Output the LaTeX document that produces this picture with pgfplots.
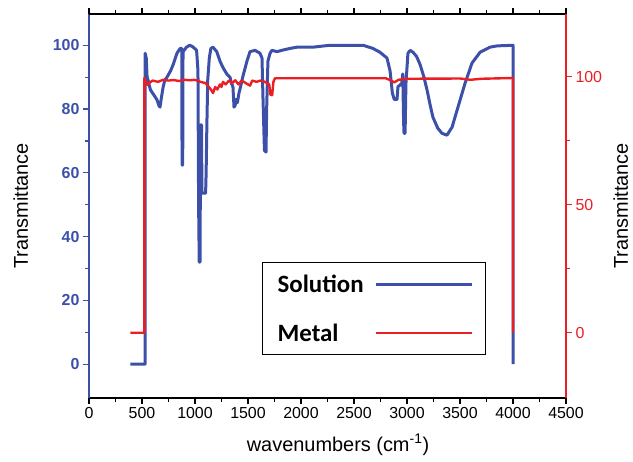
\documentclass[border=0pt]{standalone}
\usepackage{pgfplots}
\pgfplotsset{compat=1.18}
\usepackage{fontspec}
\setmainfont{Liberation Sans}
\newfontfamily\legfont{Carlito}
\definecolor{blueC}{RGB}{60,80,170}
\definecolor{redC}{RGB}{235,30,35}
\begin{document}
\begin{tikzpicture}
\pgfplotsset{
  common/.style={
    scale only axis, width=477bp, height=384bp, at={(0,0)}, anchor=south west,
    xmin=0, xmax=4500,
    xtick={0,500,...,4500}, minor x tick num=1,
    tick align=outside, major tick length=6bp, minor tick length=3.5bp,
    /pgf/number format/assume math mode=true,
    /pgf/number format/1000 sep={}, scaled ticks=false,
    x axis line style={black, line width=1.3bp, -},
    xtick style={black, line width=1.1bp},
    tick label style={font=\fontsize{16}{19}\selectfont},
    label style={font=\fontsize{20}{24}\selectfont, black},
  }
}
\begin{axis}[common,
  ymin=-10.6, ymax=109.8,
  axis x line*=bottom, axis y line*=left,
  ytick={0,20,...,100}, minor y tick num=1,
  y axis line style={blueC, line width=1.6bp, -},
  ytick style={blueC, line width=1.2bp},
  yticklabel style={blueC, font=\fontsize{16}{19}\selectfont\bfseries},
  xticklabel style={black},
  xlabel={wavenumbers (cm\textsuperscript{-1})},
  ylabel={Transmittance},
  xlabel style={at={(axis description cs:0.522,-0.122)}, anchor=center},
  ylabel style={at={(axis description cs:-0.143,0.5)}, anchor=center},
]
\addplot[blueC, line width=3bp, line join=round] coordinates {
(390,0) (530,0) (530,97.5) (540,96) (548,90) (558,89) (568,87.5) (580,86) (600,85) (620,84) (640,83) (660,81) (670,80.6) (685,84) (700,87) (715,89) (736,90)
(770,92) (795,94) (830,97.5) (860,99) (875,99) (878,62.4) (884,62.4) (887,98) (920,99.4) (950,100) (980,99.5)
(1015,98.4) (1028,92) (1034,50) (1040,32) (1048,32) (1052,75) (1062,75) (1065,53.6) (1100,53.6) (1105,60)
(1112,75) (1120,89) (1135,96) (1150,99) (1170,99.4) (1205,98) (1236,95) (1264,93) (1300,91) (1330,90)
(1345,88) (1358,87) (1368,80.6) (1378,81) (1388,83) (1400,82) (1415,85) (1430,87) (1450,90) (1490,95) (1519,98) (1566,98.4)
(1613,97.5) (1632,96) (1641,84) (1655,67) (1670,66.5) (1676,80) (1688,95) (1708,97.5) (1726,98.4) (1774,98)
(1830,98.5) (1896,99) (1962,99.4) (2113,99.4) (2274,100) (2585,100) (2679,99) (2745,97.8) (2811,96)
(2840,92) (2862,85) (2880,83) (2906,83) (2915,87) (2950,88) (2960,91) (2968,76) (2972,72.4) (2982,72.4)
(2990,88) (3009,97.5) (3030,98.4) (3057,97.8) (3090,96.5) (3123,94) (3160,90) (3189,86) (3220,81) (3245,77.4)
(3290,74) (3330,72.4) (3377,71.8) (3425,74.3) (3481,80.6) (3547,88) (3613,94.4) (3689,97.8) (3783,99.4)
(3850,99.8) (4000,100) (4000,0)
};
\end{axis}
\begin{axis}[common,
  ymin=-25.5, ymax=124.5,
  axis x line*=top, axis y line*=right,
  xticklabels={},
  ytick={0,50,100}, minor y tick num=1,
  y axis line style={redC, line width=1.6bp, -},
  ytick style={redC, line width=1.2bp},
  yticklabel style={redC},
  ylabel={Transmittance},
  ylabel style={at={(axis description cs:1.115,0.5)}, anchor=center},
  legend style={at={(axis description cs:0.3627,0.354)}, anchor=north west,
    draw=black, line width=1.2bp, fill=white,
    font=\legfont\bfseries\fontsize{25}{29}\selectfont,
    inner xsep=12bp, inner ysep=9bp, row sep=24bp,
    nodes={inner sep=3bp}},
  legend cell align=left,
  legend plot pos=right,
  legend image code/.code={\path (0bp,0bp); \draw[#1] (8bp,0bp) -- (104bp,0bp);},
]
\addlegendimage{blueC, line width=3bp}
\addlegendentry{Solution}
\addplot[redC, line width=2.4bp, line join=round] coordinates {
(390,0) (522,0) (522,99.5) (535,98) (550,96.8) (565,97.5) (600,98.5) (650,98) (700,98.8) (750,98.5)
(800,98.7) (850,98.3) (900,98.8) (950,98.6) (1000,98.8) (1050,98) (1100,97.5) (1130,96) (1150,95) (1170,93.6)
(1190,96) (1210,95) (1236,97) (1250,96) (1264,98) (1290,97) (1320,98.5) (1350,97.5) (1380,98.6) (1410,97)
(1440,98.5) (1480,97.5) (1519,96.5) (1540,98.5) (1580,98) (1620,98.5) (1660,98) (1700,97) (1712,93) (1728,92.8)
(1740,98) (1755,99.4) (2800,99.4) (2850,98.5) (2880,97.8) (2920,98.8) (3000,99.2) (3500,99.3) (3600,98.8)
(3700,99.2) (4000,99.5) (4000,0)
};
\addlegendentry{Metal}
\end{axis}
\pgfresetboundingbox
\path (-89bp,-64bp) rectangle (544bp,398bp);
\end{tikzpicture}
\end{document}
